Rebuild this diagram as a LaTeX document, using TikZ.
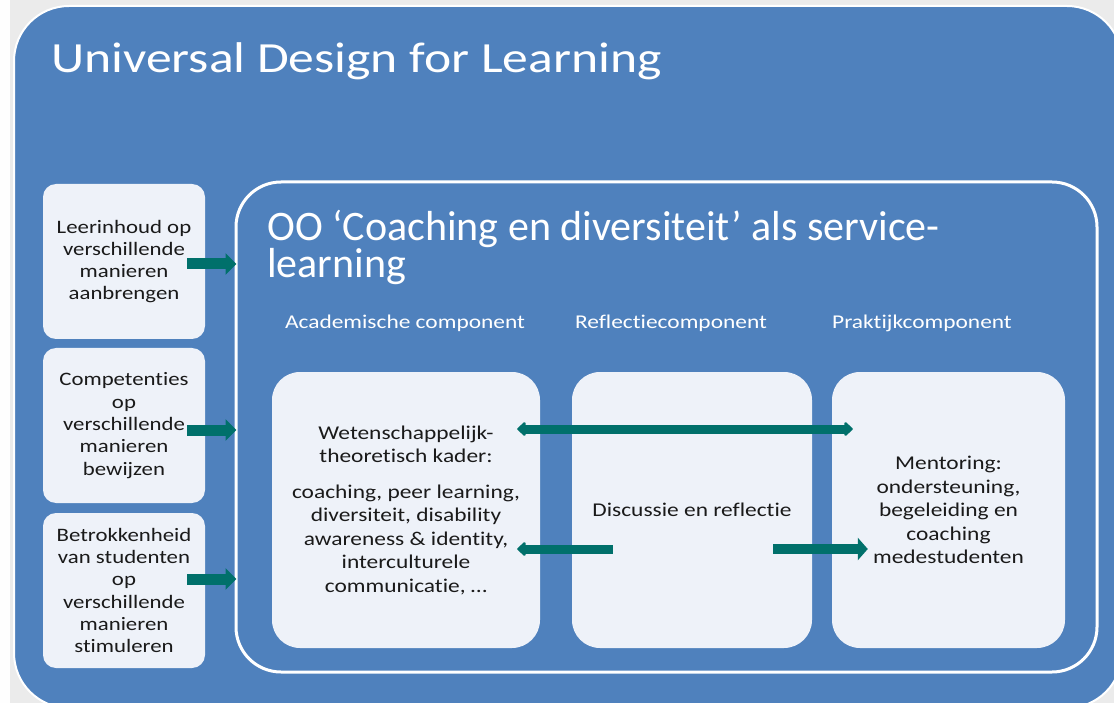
\documentclass[tikz,border=0pt]{standalone}
\usepackage{fontspec}
\setmainfont{Carlito}[Ligatures=NoCommon, FakeStretch=1.2]
\newfontfamily\oofont{Carlito}[Ligatures=NoCommon]
\usetikzlibrary{arrows.meta, calc}

\definecolor{udlblue}{HTML}{4F81BD}
\definecolor{boxfill}{HTML}{EEF2F9}
\definecolor{arrowteal}{HTML}{00706B}
\definecolor{pagegray}{HTML}{EBEBEB}
\definecolor{textdark}{HTML}{1A1A1A}

\tikzset{
  leftbox/.style={fill=boxfill, rounded corners=13pt, minimum width=162pt, minimum height=155pt,
    align=center, text=textdark, font=\fontsize{19}{22.3}\selectfont},
  compbox/.style={fill=boxfill, rounded corners=28pt, minimum height=276pt,
    align=center, text=textdark, font=\fontsize{19.5}{23.5}\selectfont},
  heading/.style={text=white, font=\fontsize{19.5}{23}\selectfont},
  sidearrow/.style={draw=arrowteal, line width=11pt, -{Triangle[width=21pt, length=11pt]}},
  linkhead/.tip={Triangle[width=16pt, length=9pt, round]},
  linkarrow/.style={draw=arrowteal, line width=9pt},
  pusharrow/.style={draw=arrowteal, line width=10pt, -{Triangle[width=22pt, length=10pt]}}
}

\begin{document}
\begin{tikzpicture}[x=1pt, y=-1pt]

\useasboundingbox ( 0, 0 ) rectangle ( 1114, 703 );

% Page background
\fill [pagegray] ( 0, 0 ) rectangle ( 1114, 703 );
\fill [white!97!pagegray] ( 0, 0 ) rectangle ( 10, 703 );

% UDL frame
\draw [white, line width=2pt, fill=udlblue, rounded corners=55pt] ( 14, 6 ) rectangle ( 1122, 708 );
\node [anchor=base west, inner sep=0, text=white, font=\fontsize{43}{50}\selectfont] (udl) at ( 51, 73 ) {Universal Design for Learning};

% Left boxes
\node [leftbox] (inhoud) at ( 124, 261.5 ) {Leerinhoud op\\verschillende\\manieren\\aanbrengen};
\node [leftbox] (compet) at ( 124, 425.5 ) {Competenties\\op\\verschillende\\manieren\\bewijzen};
\node [leftbox] (betrok) at ( 124, 590.5 ) {Betrokkenheid\\van studenten\\op\\verschillende\\manieren\\stimuleren};

% Service-learning frame
\node [draw=white, line width=3pt, rounded corners=45pt, minimum width=861pt, minimum height=490pt] (oo) at ( 666.5, 427 ) {};
\node [anchor=base west, inner sep=0, align=left, text=white, font=\oofont\fontsize{42}{36}\selectfont] (ootitle) at ( 267, 277.5 )
  {OO ‘Coaching en diversiteit’ als service-\\learning};

% Components
\node [heading] (hacad) at ( 405, 323 ) {Academische component};
\node [heading] (hrefl) at ( 671, 323 ) {Reflectiecomponent};
\node [heading] (hprak) at ( 922, 323 ) {Praktijkcomponent};

\node [compbox, minimum width=268pt] (acad) at ( 406, 510 )
  {Wetenschappelijk-\\theoretisch kader:\\[12pt]coaching, peer learning,\\diversiteit, disability\\awareness \& identity,\\interculturele\\communicatie, …};
\node [compbox, minimum width=240pt] (refl) at ( 692, 510 ) {Discussie en reflectie};
\node [compbox, minimum width=233pt] (prak) at ( 948.5, 510 )
  {Mentoring:\\ondersteuning,\\begeleiding en\\coaching\\medestudenten};

% Arrows into the frame
\draw [sidearrow] ( $ (inhoud.east) + ( -18, 2.5 ) $ ) -- ( $ (inhoud.east -| oo.west) + ( 2, 2.5 ) $ );
\draw [sidearrow] ( $ (compet.east) + ( -18, 4.5 ) $ ) -- ( $ (compet.east -| oo.west) + ( 2, 4.5 ) $ );
\draw [sidearrow] ( $ (betrok.east) + ( -18, -11.5 ) $ ) -- ( $ (betrok.east -| oo.west) + ( 2, -11.5 ) $ );

% Arrows between components
\draw [linkarrow, linkhead-linkhead] ( $ (acad.east) + ( -23, -81 ) $ ) -- ( $ (prak.west) + ( 21, -81 ) $ );
\draw [linkarrow, -linkhead] ( $ (refl.west) + ( 41, 39 ) $ ) -- ( $ (acad.east) + ( -23, 39 ) $ );
\draw [pusharrow] ( $ (refl.east) + ( -39, 39 ) $ ) -- ( $ (prak.west) + ( 36, 39 ) $ );

\end{tikzpicture}
\end{document}
